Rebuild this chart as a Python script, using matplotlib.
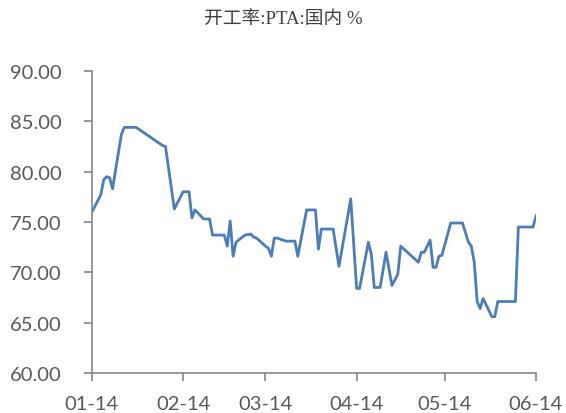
import matplotlib
matplotlib.use("Agg")
import matplotlib.pyplot as plt
import matplotlib.dates as mdates
import pandas as pd

# PTA domestic operating rate, %
dates = ["2014-01-01", "2014-01-04", "2014-01-05", "2014-01-06", "2014-01-07", "2014-01-08",
         "2014-01-11", "2014-01-12", "2014-01-16", "2014-01-25", "2014-01-26", "2014-01-29",
         "2014-02-01", "2014-02-03", "2014-02-04", "2014-02-05", "2014-02-08", "2014-02-10",
         "2014-02-11", "2014-02-15", "2014-02-16", "2014-02-17", "2014-02-18", "2014-02-19",
         "2014-02-22", "2014-02-24", "2014-02-25", "2014-02-26", "2014-03-01", "2014-03-02",
         "2014-03-03", "2014-03-04", "2014-03-05", "2014-03-08", "2014-03-11", "2014-03-12",
         "2014-03-15", "2014-03-18", "2014-03-19", "2014-03-20", "2014-03-24", "2014-03-26",
         "2014-03-30", "2014-04-01", "2014-04-02", "2014-04-05", "2014-04-06", "2014-04-07",
         "2014-04-09", "2014-04-11", "2014-04-13", "2014-04-15", "2014-04-16", "2014-04-22",
         "2014-04-23", "2014-04-24", "2014-04-26", "2014-04-27", "2014-04-28", "2014-04-29",
         "2014-04-30", "2014-05-03", "2014-05-07", "2014-05-09", "2014-05-10", "2014-05-11",
         "2014-05-12", "2014-05-13", "2014-05-14", "2014-05-17", "2014-05-18", "2014-05-19",
         "2014-05-25", "2014-05-26", "2014-05-31", "2014-06-01"]
rate = [76.0, 77.7, 79.2, 79.5, 79.4, 78.3,
        83.7, 84.4, 84.4, 82.6, 82.5, 76.3,
        78.0, 78.0, 75.4, 76.2, 75.3, 75.3,
        73.7, 73.7, 72.6, 75.1, 71.6, 73.0,
        73.7, 73.8, 73.5, 73.4, 72.6, 72.4,
        71.6, 73.4, 73.4, 73.1, 73.1, 71.6,
        76.2, 76.2, 72.3, 74.3, 74.3, 70.6,
        77.3, 68.4, 68.4, 73.0, 71.8, 68.5,
        68.5, 72.0, 68.7, 69.8, 72.6, 71.0,
        72.0, 72.0, 73.2, 70.5, 70.5, 71.6,
        71.7, 74.9, 74.9, 73.0, 72.6, 71.0,
        67.1, 66.4, 67.4, 65.6, 65.6, 67.1,
        67.1, 74.5, 74.5, 75.6]
tick_dates = ["2014-01-01", "2014-02-01", "2014-03-01", "2014-04-01", "2014-05-01", "2014-06-01"]

x = pd.to_datetime(dates)
grey = "#595959"

fig = plt.figure(figsize=(5.66, 4.14), dpi=100)
ax = fig.add_axes([0.1625, 0.0966, 0.7845, 0.7295])
ax.plot(x, rate, color="#4a7ebb", linewidth=2.0)

ax.set_ylim(60, 90)
ax.set_yticks([60, 65, 70, 75, 80, 85, 90])
ax.yaxis.set_major_formatter(plt.FuncFormatter(lambda v, p: "%.2f" % v))
ax.set_xlim(pd.Timestamp("2014-01-01"), pd.Timestamp("2014-06-01"))
ax.set_xticks(pd.to_datetime(tick_dates))
ax.xaxis.set_major_formatter(mdates.DateFormatter("%m-%y"))

for s in ["top", "right"]:
    ax.spines[s].set_visible(False)
for s in ["left", "bottom"]:
    ax.spines[s].set_color("#868686")
    ax.spines[s].set_linewidth(1.2)
ax.tick_params(axis="both", colors="#868686", labelcolor=grey, labelsize=14.5,
               length=6, width=1.2, direction="out")
ax.tick_params(axis="y", pad=16)
ax.tick_params(axis="x", pad=10)
for lab in ax.get_xticklabels() + ax.get_yticklabels():
    lab.set_fontfamily("Lato")

fig.text(0.5, 0.952, "开工率:PTA:国内 %", ha="center", va="center", fontsize=13.5,
         color="#404040", family=["Liberation Serif", "Noto Sans CJK SC"])

fig.savefig("out.png", dpi=100)
